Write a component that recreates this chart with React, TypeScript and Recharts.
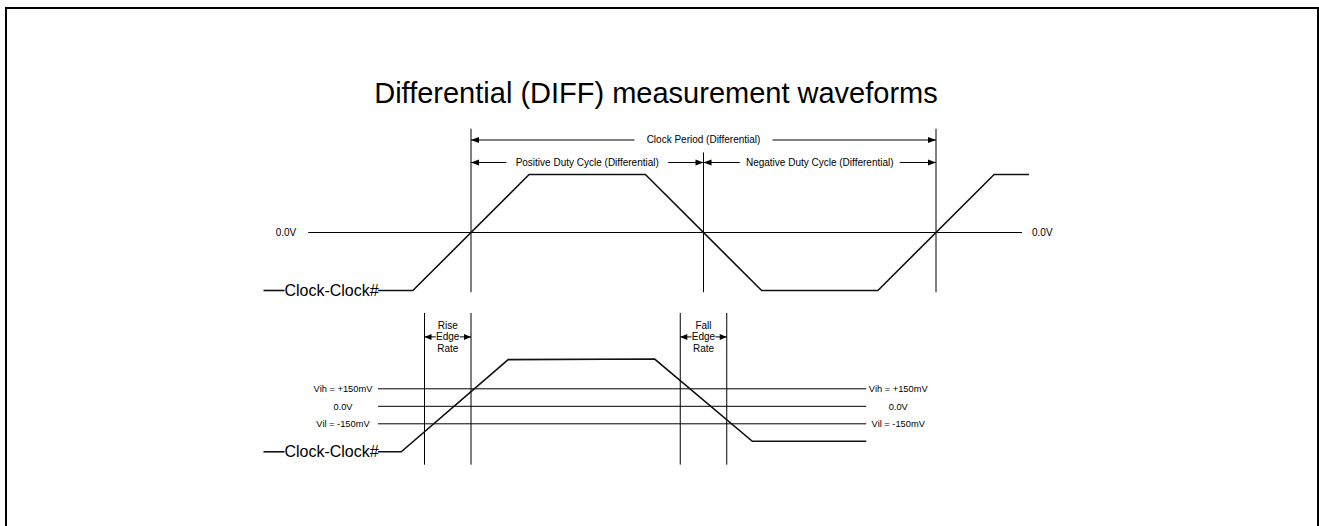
import React from 'react';
import { LineChart, Line, XAxis, YAxis, ReferenceLine, ReferenceDot } from 'recharts';

const W = 1319;
const H = 526;
const FONT = "Arial, 'Liberation Sans', Helvetica, sans-serif";

// shared time axis, arbitrary units (one clock period = 10)
const timeDomain = [-5, 14];

// top diagram: one full clock period, level in units of the swing
const topTimes = [-2.0, -1.25, 1.25, 3.75, 6.25, 8.75, 11.25, 12];
const topLevels = [-1, -1, 1, 1, -1, -1, 1, 1];
const topCrossings = [0, 5, 10];
const topCrossingTops = [1.79, 1.38, 1.79];
const topDomain = [-1.5, 2.5];

// bottom diagram: edges zoomed in, level in mV
const edgeTimes = [-2.0, -1.5, 0.8, 3.95, 6.05, 8.5];
const edgeLevels = [-390, -390, 400, 405, -300, -300];
const edgeMarkers = [-1, 0, 4.5, 5.5];
const thresholds = [150, 0, -150];
const thresholdLabels = ['Vih = +150mV', '0.0V', 'Vil = -150mV'];
const edgeDomain = [-600, 900];

const topData = topTimes.map((t, i) => ({ t, v: topLevels[i] }));
const edgeData = edgeTimes.map((t, i) => ({ t, v: edgeLevels[i] }));

const txt = { fontFamily: FONT, fill: '#000' };

// horizontal level line with a label on each end
const levelShape = (left: string, right: string, lOff: number, rOff: number, centered: boolean, size = 10) => (p: any) => {
  const xa = Math.min(p.x1, p.x2);
  const xb = Math.max(p.x1, p.x2);
  return (
    <g>
      <line x1={xa} y1={p.y1} x2={xb} y2={p.y2} stroke="#000" strokeWidth={1} />
      <text x={xa - lOff} y={p.y1} dy="0.35em" fontSize={size} textAnchor={centered ? 'middle' : 'end'} {...txt}>{left}</text>
      <text x={xb + rOff} y={p.y1} dy="0.35em" fontSize={size} textAnchor={centered ? 'middle' : 'start'} {...txt}>{right}</text>
    </g>
  );
};

// double-headed dimension arrow with a label in the gap
const dimShape = (label: string, half: number, above?: string, below?: string, head = 8) => (p: any) => {
  const xa = Math.min(p.x1, p.x2);
  const xb = Math.max(p.x1, p.x2);
  const y = p.y1;
  const mid = (xa + xb) / 2;
  return (
    <g>
      <line x1={xa} y1={y} x2={mid - half} y2={y} stroke="#000" strokeWidth={1} />
      <line x1={mid + half} y1={y} x2={xb} y2={y} stroke="#000" strokeWidth={1} />
      <polygon points={`${xa},${y} ${xa + head},${y - 3} ${xa + head},${y + 3}`} fill="#000" />
      <polygon points={`${xb},${y} ${xb - head},${y - 3} ${xb - head},${y + 3}`} fill="#000" />
      <text x={mid} y={y} dy="0.35em" fontSize={10} textAnchor="middle" {...txt}>{label}</text>
      {above && <text x={mid} y={y - 11.5} dy="0.35em" fontSize={10} textAnchor="middle" {...txt}>{above}</text>}
      {below && <text x={mid} y={y + 11.5} dy="0.35em" fontSize={10} textAnchor="middle" {...txt}>{below}</text>}
    </g>
  );
};

// "—Clock-Clock#" tag sitting on the low level
const signalTag = (p: any) => (
  <g>
    <line x1={p.cx - 68} y1={p.cy} x2={p.cx - 47} y2={p.cy} stroke="#111" strokeWidth={1.6} />
    <text x={p.cx} y={p.cy} dy="0.35em" fontSize={16} textAnchor="middle" {...txt}>Clock-Clock#</text>
  </g>
);

const App: React.FC = () => {
  return (
    <div style={{ position: 'absolute', left: 0, top: 0, width: W, height: H, overflow: 'hidden', background: '#fff' }}>
      <div
        style={{
          position: 'absolute', left: 5, top: 7, width: 1314, height: 519, boxSizing: 'border-box',
          borderTop: '2px solid #000', borderLeft: '2px solid #000', borderRight: '2px solid #000',
        }}
      />
      <div
        style={{
          position: 'absolute', left: 0, top: 79, width: 1312, textAlign: 'center',
          fontFamily: FONT, fontSize: 29, lineHeight: '29px', color: '#000',
        }}
      >
        Differential (DIFF) measurement waveforms
      </div>

      <div style={{ position: 'absolute', left: 0, top: 0 }}>
        <LineChart width={W} height={H} data={topData} margin={{ top: 87.5, right: 197, bottom: 206.5, left: 238.5 }}>
          <XAxis type="number" dataKey="t" domain={timeDomain} hide allowDataOverflow />
          <YAxis type="number" domain={topDomain} hide allowDataOverflow />
          <ReferenceLine segment={[{ x: -3.5, y: 0 }, { x: 11.85, y: 0 }]} shape={levelShape('0.0V', '0.0V', 12, 10, false)} />
          {topCrossings.map((t, i) => (
            <ReferenceLine key={t} segment={[{ x: t, y: -1.03 }, { x: t, y: topCrossingTops[i] }]} stroke="#000" strokeWidth={1} />
          ))}
          <ReferenceLine segment={[{ x: 0, y: 1.595 }, { x: 10, y: 1.595 }]} shape={dimShape('Clock Period (Differential)', 69)} />
          <ReferenceLine segment={[{ x: 0, y: 1.207 }, { x: 5, y: 1.207 }]} shape={dimShape('Positive Duty Cycle (Differential)', 81)} />
          <ReferenceLine segment={[{ x: 5, y: 1.207 }, { x: 10, y: 1.207 }]} shape={dimShape('Negative Duty Cycle (Differential)', 80)} />
          <Line type="linear" dataKey="v" stroke="#111" strokeWidth={1.6} dot={false} isAnimationActive={false} />
          <ReferenceDot x={-3.0} y={-1} shape={signalTag} />
        </LineChart>
      </div>

      <div style={{ position: 'absolute', left: 0, top: 0 }}>
        <LineChart width={W} height={H} data={edgeData} margin={{ top: 301.3, right: 197, bottom: 49.7, left: 238.5 }}>
          <XAxis type="number" dataKey="t" domain={timeDomain} hide allowDataOverflow />
          <YAxis type="number" domain={edgeDomain} hide allowDataOverflow />
          {thresholds.map((v, i) => (
            <ReferenceLine
              key={v}
              segment={[{ x: -2, y: v }, { x: 8.5, y: v }]}
              shape={levelShape(thresholdLabels[i], thresholdLabels[i], 35, 32, true, 9.3)}
            />
          ))}
          {edgeMarkers.map((t) => (
            <ReferenceLine key={t} segment={[{ x: t, y: -500 }, { x: t, y: 800 }]} stroke="#000" strokeWidth={1} />
          ))}
          <ReferenceLine segment={[{ x: -1, y: 595 }, { x: 0, y: 595 }]} shape={dimShape('Edge', 12, 'Rise', 'Rate', 7)} />
          <ReferenceLine segment={[{ x: 4.5, y: 595 }, { x: 5.5, y: 595 }]} shape={dimShape('Edge', 12, 'Fall', 'Rate', 7)} />
          <Line type="linear" dataKey="v" stroke="#111" strokeWidth={1.6} dot={false} isAnimationActive={false} />
          <ReferenceDot x={-3.0} y={-390} shape={signalTag} />
        </LineChart>
      </div>
    </div>
  );
};

export default App;
